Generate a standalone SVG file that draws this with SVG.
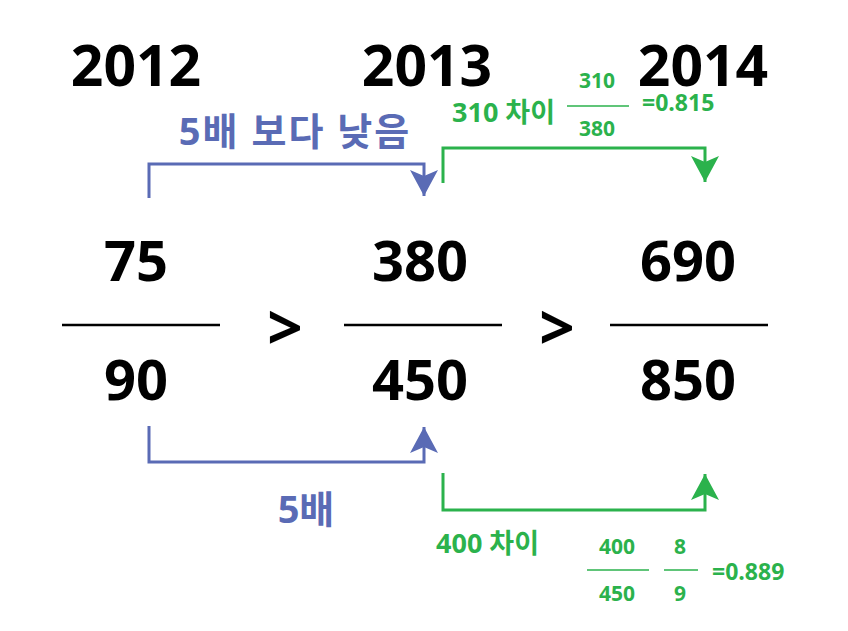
<svg xmlns="http://www.w3.org/2000/svg" width="848" height="631" viewBox="0 0 848 631">
<style>
text{font-family:"Open Sans","Noto Sans CJK KR",sans-serif;font-weight:bold}
.yr{font-size:57px;fill:#000;text-anchor:middle}
.num{font-size:56px;fill:#000;text-anchor:middle}
.gt{font-size:62px;fill:#000;text-anchor:middle}
.bl{fill:#5A6BB5}
.gr{fill:#2BB24C}
.fr{font-size:21px;text-anchor:middle}
.bc{stroke:#5A6BB5;stroke-width:3;fill:none}
.gc{stroke:#2BB24C;stroke-width:3;fill:none}
.fl{stroke:#000;stroke-width:2.5}
.gl{stroke:#2BB24C;stroke-width:1.5}
</style>
<defs>
<marker id="ab" markerUnits="userSpaceOnUse" markerWidth="28" markerHeight="28" viewBox="0 0 28 28" refX="26" refY="14" orient="auto"><path d="M0,0 L26,14 L0,28 L6,14 z" fill="#5A6BB5"/></marker>
<marker id="ag" markerUnits="userSpaceOnUse" markerWidth="28" markerHeight="28" viewBox="0 0 28 28" refX="26" refY="14" orient="auto"><path d="M0,0 L26,14 L0,28 L6,14 z" fill="#2BB24C"/></marker>
</defs>
<g id="years">
<text class="yr" x="136" y="86">2012</text>
<text class="yr" x="427" y="86">2013</text>
<text class="yr" x="703" y="86">2014</text>
</g>
<g id="f2012">
<text class="num" x="136" y="281">75</text>
<line class="fl" x1="62" y1="325" x2="220" y2="325"/>
<text class="num" x="136" y="400">90</text>
</g>
<g id="f2013">
<text class="num" x="420" y="281">380</text>
<line class="fl" x1="344" y1="325" x2="502" y2="325"/>
<text class="num" x="420" y="400">450</text>
</g>
<g id="f2014">
<text class="num" x="688" y="281">690</text>
<line class="fl" x1="610" y1="325" x2="768" y2="325"/>
<text class="num" x="688" y="400">850</text>
</g>
<g id="gt">
<text class="gt" x="285" y="350">&gt;</text>
<text class="gt" x="557" y="350">&gt;</text>
</g>
<g id="connectors">
<path class="bc" d="M149,198 V164 H424 V196" marker-end="url(#ab)"/>
<path class="gc" d="M443,183 V148 H705 V182" marker-end="url(#ag)"/>
<path class="bc" d="M149,426 V462 H424 V427" marker-end="url(#ab)"/>
<path class="gc" d="M443,473 V510 H705 V474" marker-end="url(#ag)"/>
</g>
<g id="label-top-blue">
<text class="bl" x="295" y="145" font-size="38" letter-spacing="2" text-anchor="middle">5배 보다 낮음</text>
</g>
<g id="label-bottom-blue">
<text class="bl" x="306" y="523" font-size="38" text-anchor="middle">5배</text>
</g>
<g id="label-top-green">
<text class="gr" x="452" y="122" font-size="27">310 차이</text>
<text class="gr fr" x="597" y="88">310</text>
<line class="gl" x1="567" y1="106" x2="629" y2="106"/>
<text class="gr fr" x="597" y="136">380</text>
<text class="gr" x="642" y="111" font-size="23">=0.815</text>
</g>
<g id="label-bottom-green">
<text class="gr" x="436" y="553" font-size="27">400 차이</text>
<text class="gr fr" x="617" y="554">400</text>
<line class="gl" x1="587" y1="570" x2="649" y2="570"/>
<text class="gr fr" x="617" y="601">450</text>
<text class="gr fr" x="680" y="554">8</text>
<line class="gl" x1="664" y1="570" x2="698" y2="570"/>
<text class="gr fr" x="680" y="601">9</text>
<text class="gr" x="712" y="580" font-size="23">=0.889</text>
</g>
</svg>
